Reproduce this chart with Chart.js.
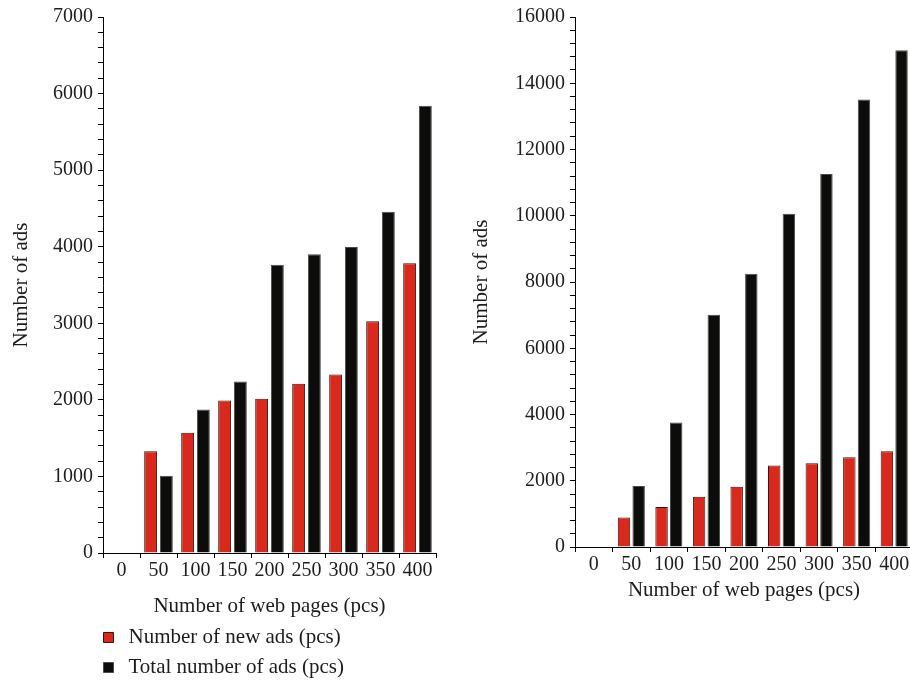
<!DOCTYPE html>
<html>
<head>
<meta charset="utf-8">
<script src="https://cdn.jsdelivr.net/npm/chart.js@4.4.1/dist/chart.umd.min.js"></script>
<style>
html,body{margin:0;padding:0;background:#fff;overflow:hidden;width:910px;height:684px;}
canvas{position:absolute;display:block;}
</style>
</head>
<body>
<canvas id="c1" width="460" height="623" style="left:0;top:0"></canvas>
<canvas id="c2" width="480" height="607" style="left:460px;top:0"></canvas>
<canvas id="c3" width="760" height="80" style="left:90px;top:618px"></canvas>
<script>
// ---- data ----
const categories = ['0', '50', '100', '150', '200', '250', '300', '350', '400'];
const seriesNames = ['Number of new ads (pcs)', 'Total number of ads (pcs)'];
// left panel
const leftNewAds   = [0, 1330, 1570, 1990, 2015, 2210, 2330, 3025, 3785];
const leftTotalAds = [0, 1010, 1875, 2240, 3765, 3900, 3995, 4455, 5840];
// right panel
const rightNewAds   = [0, 890, 1210, 1520, 1820, 2460, 2530, 2710, 2890];
const rightTotalAds = [0, 1840, 3760, 7010, 8250, 10060, 11260, 13510, 15000];
const leftYMax = 7000, leftYStep = 200, leftYLabelStep = 1000;
const rightYMax = 16000, rightYStep = 400, rightYLabelStep = 2000;
const xTitle = 'Number of web pages (pcs)';
const yTitle = 'Number of ads';

// ---- style ----
const RED = '#d9291c', RED_BORDER = '#3a1510';
const BLACK = '#0c0c0b', BLACK_BORDER = '#4a4a4a';
const FONT = "'Liberation Serif', 'Times New Roman', serif";
const TXT = '#1f1c1d';

function makeChart(id, newAds, totalAds, yMax, yStep, yLabelStep, opts) {
  return new Chart(document.getElementById(id), {
    type: 'bar',
    data: {
      labels: categories,
      datasets: [
        { label: seriesNames[0], data: newAds, backgroundColor: RED, borderColor: RED_BORDER, borderWidth: 1,
          categoryPercentage: opts.cp, barPercentage: opts.bp },
        { label: seriesNames[1], data: totalAds, backgroundColor: BLACK, borderColor: BLACK_BORDER, borderWidth: 1,
          categoryPercentage: opts.cp, barPercentage: opts.bp }
      ]
    },
    options: {
      responsive: false,
      animation: false,
      layout: { padding: { top: 14, right: opts.padRight, bottom: 0, left: 0 } },
      plugins: { legend: { display: false }, tooltip: { enabled: false } },
      scales: {
        x: {
          offset: true,
          grid: { offset: true, drawOnChartArea: false, drawTicks: true, tickLength: 5, color: '#000', lineWidth: 1 },
          border: { display: true, color: '#000', width: 1 },
          ticks: { autoSkip: false, maxRotation: 0, padding: 1, color: TXT, font: { family: FONT, size: 20 } },
          title: { display: true, text: xTitle, color: TXT, font: { family: FONT, size: 21 }, padding: { top: 0, bottom: opts.xTitlePadBottom } },
          afterFit: s => { s.height = opts.xHeight; }
        },
        y: {
          min: 0, max: yMax,
          grid: { drawOnChartArea: false, drawTicks: true, tickLength: 5, color: '#000', lineWidth: 1 },
          border: { display: true, color: '#000', width: 1 },
          ticks: { stepSize: yStep, autoSkip: false, padding: 5, color: TXT, font: { family: FONT, size: 20 },
                   callback: v => (v % yLabelStep === 0 ? String(v) : '') },
          title: { display: true, text: yTitle, color: TXT, font: { family: FONT, size: 21 }, padding: { top: 9, bottom: 0 } },
          afterFit: s => { s.width = opts.yWidth; }
        }
      }
    }
  });
}

makeChart('c1', leftNewAds, leftTotalAds, leftYMax, leftYStep, leftYLabelStep,
  { cp: 0.85, bp: 0.82, padRight: 24, xHeight: 70, xTitlePadBottom: 4, yWidth: 103 });
makeChart('c2', rightNewAds, rightTotalAds, rightYMax, rightYStep, rightYLabelStep,
  { cp: 0.78, bp: 0.85, padRight: 27, xHeight: 60, xTitlePadBottom: 4, yWidth: 115 });

// legend-only chart
new Chart(document.getElementById('c3'), {
  type: 'bar',
  data: {
    labels: [],
    datasets: [
      { label: seriesNames[0], data: [], backgroundColor: RED, borderColor: RED_BORDER, borderWidth: 1 },
      { label: seriesNames[1], data: [], backgroundColor: BLACK, borderColor: BLACK_BORDER, borderWidth: 1 }
    ]
  },
  options: {
    responsive: false,
    animation: false,
    layout: { padding: 0 },
    scales: { x: { display: false }, y: { display: false } },
    plugins: {
      tooltip: { enabled: false },
      legend: {
        position: 'left', align: 'start',
        labels: { usePointStyle: true, pointStyle: 'rect', boxWidth: 19, boxHeight: 10, padding: 9,
                  color: TXT, font: { family: FONT, size: 21 } }
      }
    }
  }
});
</script>
</body>
</html>
